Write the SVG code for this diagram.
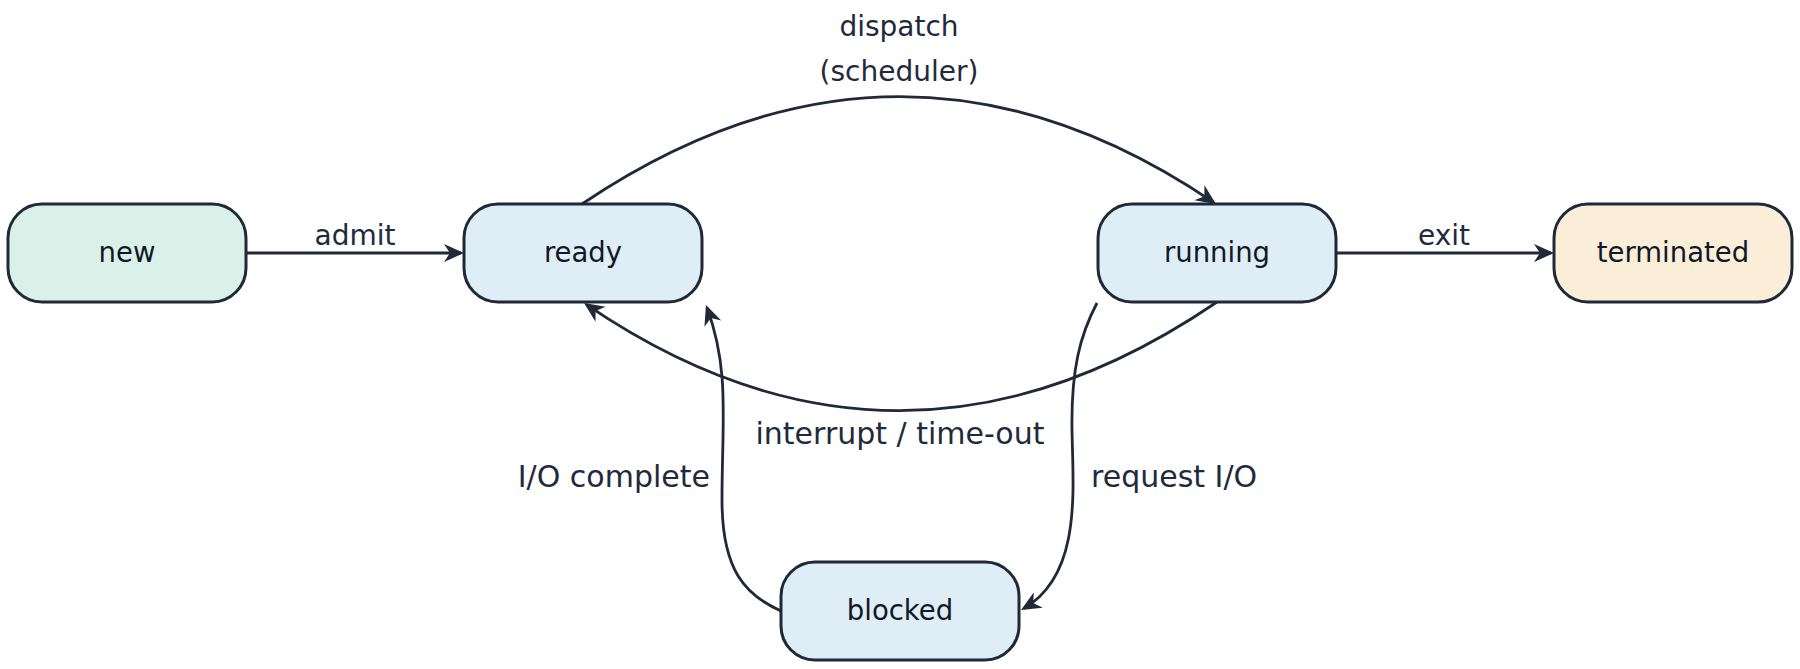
<svg xmlns="http://www.w3.org/2000/svg" width="1800" height="669" viewBox="0 0 1800 669">
<style>
.node rect{stroke:#1f2937;stroke-width:3}
.nl{font-family:"DejaVu Sans",sans-serif;font-size:27.5px;fill:#111827;text-anchor:middle}
.el{font-family:"DejaVu Sans",sans-serif;font-size:28px;fill:#1f2a3c}
.el2{font-family:"DejaVu Sans",sans-serif;font-size:30px;fill:#1f2a3c}
.edge{fill:none;stroke:#1f2937;stroke-width:2.8;marker-end:url(#arr)}
</style>
<defs>
<marker id="arr" viewBox="-24 -11 26 22" refX="-3" refY="0" markerWidth="26" markerHeight="22" markerUnits="userSpaceOnUse" orient="auto">
<path d="M0,0 L-20,-9 L-14,0 L-20,9 Z" fill="#1f2937"/>
</marker>
</defs>
<rect width="1800" height="669" fill="#ffffff"/>
<g id="connectors">
<path class="edge" d="M246,253 L461,253"/>
<path class="edge" d="M1336,253 L1551,253"/>
<path class="edge" d="M582,204 Q899.5,-10 1213.5,202.3"/>
<path class="edge" d="M1217,302 Q900,518 586.5,304.7"/>
<path class="edge" d="M1097,303 C1080,335 1071,370 1072,430 C1073,490 1082,575 1023.6,608.5"/>
<path class="edge" d="M781,611 C745,595 722,570 722,500 C722,420 730,370 707,307.8"/>
<text class="el" x="355" y="245" text-anchor="middle">admit</text>
<text class="el" x="1444" y="245" text-anchor="middle">exit</text>
<text class="el" x="899" y="36" text-anchor="middle">dispatch</text>
<text class="el" x="899" y="81" text-anchor="middle">(scheduler)</text>
<text class="el2" x="900" y="444" text-anchor="middle">interrupt / time-out</text>
<text class="el2" x="710" y="487" text-anchor="end">I/O complete</text>
<text class="el2" x="1091" y="487">request I/O</text>
</g>
<g id="node-new" class="node">
<rect x="8" y="204" width="238" height="98" rx="34" fill="#daf1ea"/>
<text class="nl" x="127" y="262">new</text>
</g>
<g id="node-ready" class="node">
<rect x="464" y="204" width="238" height="98" rx="34" fill="#dfeef6"/>
<text class="nl" x="583" y="262">ready</text>
</g>
<g id="node-running" class="node">
<rect x="1098" y="204" width="238" height="98" rx="34" fill="#dfeef6"/>
<text class="nl" x="1217" y="262">running</text>
</g>
<g id="node-terminated" class="node">
<rect x="1554" y="204" width="238" height="98" rx="34" fill="#fbeed8"/>
<text class="nl" x="1673" y="262">terminated</text>
</g>
<g id="node-blocked" class="node">
<rect x="781" y="562" width="238" height="98" rx="34" fill="#dfeef6"/>
<text class="nl" x="900" y="620">blocked</text>
</g>
</svg>
